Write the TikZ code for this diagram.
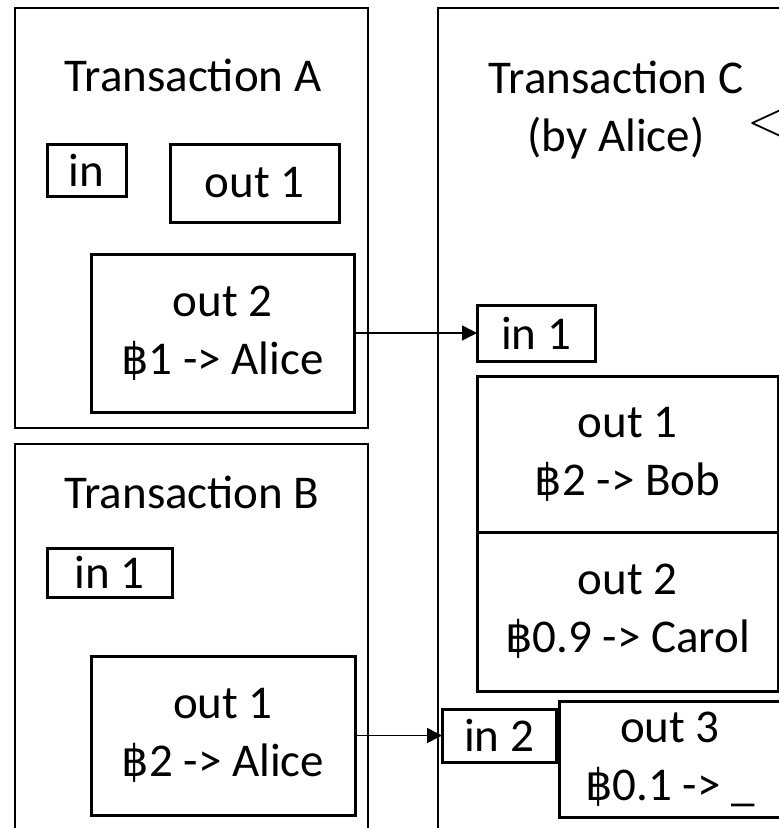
\documentclass[tikz,border=0pt]{standalone}
\usepackage{fontspec}
\setmainfont{Carlito}
\newfontfamily\bahtfont[Scale=0.92]{DejaVu Sans}
\newfontfamily\markfont{Latin Modern Roman}
\usetikzlibrary{arrows.meta,positioning}
\newcommand{\txfont}{\fontsize{47}{58}\selectfont}
\newcommand{\baht}{{\bahtfont ฿}}
\tikzset{
  txbox/.style={
    draw, line width=2.4pt, outer sep=0pt, inner sep=0pt, anchor=north west
  },
  slotbox/.style={
    draw, line width=3pt, outer sep=0pt, inner sep=0pt, anchor=north west,
    align=center, font=\txfont
  },
  txtitle/.style={font=\txfont, align=center, inner sep=0pt},
  spend/.style={-{Triangle[length=15pt,width=15pt]}, line width=1.6pt}
}

\begin{document}
\begin{tikzpicture}[x=1pt, y=-1pt]
  \useasboundingbox (0,0) rectangle (779,828);
  \clip (0,0) rectangle (779,828);

  \node[txbox, minimum width=353pt, minimum height=420pt] (txA) at (15,8) {};
  \node[txtitle, anchor=base] (titleA) at (193,91) {Transaction A};
  \node[slotbox, minimum width=79pt, minimum height=52pt] (aIn) at (47,144) {in};
  \node[slotbox, minimum width=169pt, minimum height=78pt] (aOut1) at (170,144) {out 1};
  \node[slotbox, minimum width=263pt, minimum height=158pt] (aOut2) at (91,254)
    {out 2\\\baht1 -> Alice};

  \node[txbox, minimum width=353pt, minimum height=480pt] (txB) at (15,444) {};
  \node[txtitle, anchor=base] (titleB) at (192,508) {Transaction B};
  \node[slotbox, minimum width=125pt, minimum height=49pt] (bIn1) at (47,548) {in 1};
  \node[slotbox, minimum width=264pt, minimum height=159pt] (bOut1) at (91,656)
    {out 1\\\baht2 -> Alice};

  \node[txbox, minimum width=380pt, minimum height=900pt] (txC) at (438,8) {};
  \node[txtitle, anchor=north] (titleC) at (616,61) {Transaction C\\(by Alice)};
  \node[anchor=west, inner sep=0pt, font=\markfont\fontsize{52}{52}\selectfont] (cMark) at (747,124) {<};
  \node[slotbox, minimum width=118pt, minimum height=56pt] (cIn1) at (477,305) {in 1};
  \node[slotbox, minimum width=301pt, minimum height=156pt] (cOut1) at (477,376)
    {out 1\\\baht2 -> Bob};
  \node[slotbox, minimum width=301pt, minimum height=159pt, below=0pt of cOut1.south west,
    anchor=north west] (cOut2) {out 2\\\baht0.9 -> Carol};
  \node[slotbox, minimum width=114pt, minimum height=53pt] (cIn2) at (442,709) {in 2};
  \node[slotbox, minimum width=222pt, minimum height=116pt] (cOut3) at (559,701)
    {out 3\\\baht0.1 -> \_};

  \draw[spend] (aOut2.east) -- (cIn1.west);
  \draw[spend] (bOut1.east) -- (cIn2.west);
\end{tikzpicture}
\end{document}
